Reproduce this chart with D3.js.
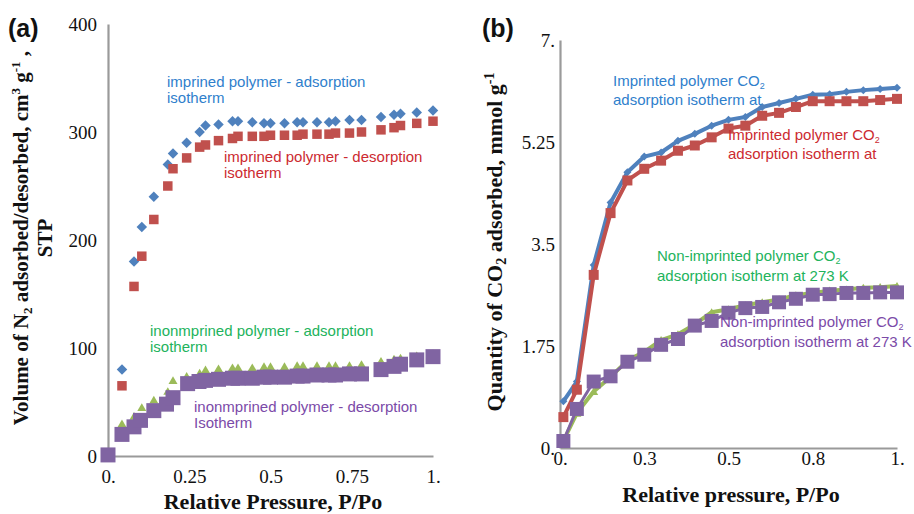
<!DOCTYPE html>
<html>
<head>
<meta charset="utf-8">
<script src="https://cdn.jsdelivr.net/npm/d3@7"></script>
<style>
  html, body { margin: 0; padding: 0; background: #fff; }
  svg { display: block; }
</style>
</head>
<body>
<svg id="chart" width="914" height="514"></svg>
<script>
// ---------- Panel (a) data: N2 isotherms ----------
const aImpX = [0.043, 0.08, 0.104, 0.141, 0.184, 0.20, 0.242, 0.282, 0.30, 0.34, 0.383, 0.40, 0.444, 0.48, 0.50, 0.543, 0.582, 0.60, 0.643, 0.68, 0.70, 0.743, 0.78, 0.84, 0.88, 0.90, 0.95, 1.0];
const aImpAds = [80, 180, 212, 240, 270, 280, 290, 300, 306, 307, 310, 310, 309, 308, 308, 308, 309, 309, 309, 309, 310, 311, 311, 314, 316, 317, 318, 320];
const aImpDes = [65, 157, 185, 219, 250, 266, 276, 286, 288, 292, 294, 296, 296, 296, 297, 297, 297, 298, 298, 298, 299, 299, 300, 302, 304, 306, 308, 310];
const aNonAds = [30, 37, 45, 52, 60, 70, 74, 77, 80, 81, 82, 82, 82, 83, 83, 83, 84, 84, 84, 84, 84, 84, 85, 88, 90, 91, 93, 95];
const aNonDesX = [0, 0.043, 0.08, 0.10, 0.141, 0.18, 0.20, 0.245, 0.28, 0.30, 0.34, 0.383, 0.40, 0.444, 0.48, 0.50, 0.543, 0.582, 0.60, 0.643, 0.68, 0.70, 0.743, 0.78, 0.84, 0.88, 0.90, 0.95, 1.0];
const aNonDes = [1, 20, 27, 33, 42, 48, 54, 67, 69, 70, 71, 72, 72, 72, 73, 73, 73, 74, 74, 75, 75, 75, 76, 76, 80, 83, 85, 89, 92];
const aXTicks = [0, 0.25, 0.5, 0.75, 1];
const aXTickLabels = ["0.", "0.25", "0.5", "0.75", "1."];
const aYTicks = [0, 100, 200, 300, 400];
const aYTickLabels = ["0", "100", "200", "300", "400"];

// ---------- Panel (b) data: CO2 isotherms ----------
const bX = [0.01, 0.05, 0.10, 0.15, 0.20, 0.25, 0.30, 0.35, 0.40, 0.45, 0.50, 0.55, 0.60, 0.65, 0.70, 0.75, 0.80, 0.85, 0.90, 0.95, 1.0];
const bImpBlue = [0.80, 1.14, 3.14, 4.21, 4.73, 5.00, 5.07, 5.27, 5.39, 5.53, 5.63, 5.68, 5.85, 5.92, 5.99, 6.06, 6.07, 6.11, 6.14, 6.16, 6.18];
const bImpRed = [0.53, 1.00, 2.97, 4.03, 4.59, 4.79, 4.93, 5.10, 5.19, 5.33, 5.48, 5.53, 5.70, 5.75, 5.85, 5.95, 5.95, 5.95, 5.95, 5.97, 5.99];
const bNonGreen = [0.12, 0.60, 0.97, 1.22, 1.50, 1.65, 1.85, 1.95, 2.12, 2.33, 2.38, 2.45, 2.50, 2.55, 2.62, 2.66, 2.70, 2.72, 2.75, 2.76, 2.78];
const bNonPurple = [0.12, 0.67, 1.14, 1.23, 1.48, 1.60, 1.77, 1.87, 2.10, 2.18, 2.32, 2.40, 2.42, 2.50, 2.56, 2.63, 2.64, 2.66, 2.66, 2.67, 2.67];
const bXTicks = [0, 0.25, 0.5, 0.75, 1];
const bXTickLabels = ["0.", "0.3", "0.5", "0.8", "1."];
const bYTicks = [0, 1.75, 3.5, 5.25, 7];
const bYTickLabels = ["0.", "1.75", "3.5", "5.25", "7."];

const C = { blue: "#4F81BD", red: "#C0504D", green: "#9BBB59", purple: "#8064A2" };
const T = { blue: "#2F80CC", red: "#CC2A30", green: "#22B35C", purple: "#7B4AA8" };
const SERIF = "'Liberation Serif', 'Times New Roman', serif";
const SANS = "'Liberation Sans', Arial, sans-serif";

const svg = d3.select("#chart");

// marker paths
function marker(type, s) {
  const h = s / 2;
  if (type === "diamond") return `M0,${-h}L${h},0L0,${h}L${-h},0Z`;
  if (type === "square") return `M${-h},${-h}H${h}V${h}H${-h}Z`;
  if (type === "triangle") return `M0,${-h * 0.9}L${h},${h * 0.8}L${-h},${h * 0.8}Z`;
}

function axes(g, x, y, xTicks, xLabels, yTicks, yLabels, xPad, yPad) {
  const xa = g.append("g").attr("transform", `translate(0,${y(0)})`)
    .call(d3.axisBottom(x).tickValues(xTicks).tickFormat((d, i) => xLabels[i]).tickSize(0).tickPadding(xPad));
  const ya = g.append("g").attr("transform", `translate(${x(0)},0)`)
    .call(d3.axisLeft(y).tickValues(yTicks).tickFormat((d, i) => yLabels[i]).tickSize(0).tickPadding(yPad));
  [xa, ya].forEach(a => {
    a.select(".domain").attr("stroke", "#9a9a9a").attr("stroke-width", 2.2);
    a.selectAll("text").attr("font-family", SERIF).attr("font-size", 19).attr("fill", "#111");
  });
}

function label(g, x, y, lines, color) {
  const t = g.append("text").attr("font-family", SANS).attr("font-size", 15).attr("fill", color);
  lines.forEach((ln, i) => {
    const base = t.append("tspan").attr("x", x).attr("y", y + i * ln.dy0);
    ln.parts.forEach(p => {
      const s = base.append("tspan").text(p.t);
      if (p.sub) s.attr("font-size", 9).attr("dy", 3);
    });
  });
}

// ================= Panel (a) =================
{
  const g = svg.append("g");
  const x = d3.scaleLinear().domain([0, 1]).range([108, 433]);
  const y = d3.scaleLinear().domain([0, 400]).range([456, 24]);
  axes(g, x, y, aXTicks, aXTickLabels, aYTicks, aYTickLabels, 14, 11);

  const draw = (xs, vs, type, size, color) => {
    g.append("g").selectAll("path").data(vs).join("path")
      .attr("transform", (d, i) => `translate(${x(xs[i])},${y(d)})`)
      .attr("d", marker(type, size)).attr("fill", color);
  };
  draw(aImpX, aImpAds, "diamond", 10.5, C.blue);
  draw(aImpX, aImpDes, "square", 9.5, C.red);
  draw(aImpX, aNonAds, "triangle", 9, C.green);
  draw(aNonDesX, aNonDes, "square", 15, C.purple);

  label(g, 167, 87, [{ dy0: 16, parts: [{ t: "imprined polymer - adsorption" }] }, { dy0: 16, parts: [{ t: "isotherm" }] }], T.blue);
  label(g, 224, 162, [{ dy0: 16, parts: [{ t: "imprined polymer - desorption" }] }, { dy0: 16, parts: [{ t: "isotherm" }] }], T.red);
  label(g, 150, 336, [{ dy0: 16, parts: [{ t: "inonmprined polymer - adsorption" }] }, { dy0: 16, parts: [{ t: "isotherm" }] }], T.green);
  label(g, 194, 412, [{ dy0: 16, parts: [{ t: "inonmprined polymer - desorption" }] }, { dy0: 16, parts: [{ t: "Isotherm" }] }], T.purple);

  // panel tag
  g.append("text").attr("x", 8).attr("y", 37).attr("font-family", SANS).attr("font-weight", "bold")
    .attr("font-size", 25).attr("fill", "#111").text("(a)");

  // x title
  g.append("text").attr("x", 273).attr("y", 509).attr("text-anchor", "middle")
    .attr("font-family", SERIF).attr("font-weight", "bold").attr("font-size", 22).attr("fill", "#111")
    .text("Relative Pressure, P/Po");

  // y title (two lines)
  const yt = g.append("text").attr("transform", "translate(28,238) rotate(-90)").attr("text-anchor", "middle")
    .attr("font-family", SERIF).attr("font-weight", "bold").attr("font-size", 21).attr("fill", "#111");
  yt.append("tspan").text("Volume of N");
  yt.append("tspan").attr("font-size", 13).attr("dy", 4).text("2");
  yt.append("tspan").attr("dy", -4).text(" adsorbed/desorbed, cm");
  yt.append("tspan").attr("font-size", 13).attr("dy", -8).text("3");
  yt.append("tspan").attr("dy", 8).text(" g");
  yt.append("tspan").attr("font-size", 13).attr("dy", -8).text("-1");
  yt.append("tspan").attr("dy", 8).text(" ,");
  g.append("text").attr("transform", "translate(52,238) rotate(-90)").attr("text-anchor", "middle")
    .attr("font-family", SERIF).attr("font-weight", "bold").attr("font-size", 21).attr("fill", "#111").text("STP");
}

// ================= Panel (b) =================
{
  const g = svg.append("g");
  const x = d3.scaleLinear().domain([0, 1]).range([560, 897]);
  const y = d3.scaleLinear().domain([0, 7]).range([448, 40]);
  axes(g, x, y, bXTicks, bXTickLabels, bYTicks, bYTickLabels, 4, 5);

  const series = [
    { v: bImpBlue, type: "diamond", size: 8, color: C.blue, w: 4 },
    { v: bImpRed, type: "square", size: 10, color: C.red, w: 4 },
    { v: bNonGreen, type: "triangle", size: 9, color: C.green, w: 4 },
    { v: bNonPurple, type: "square", size: 14, color: C.purple, w: 3 }
  ];
  const line = d3.line().x((d, i) => x(bX[i])).y(d => y(d));
  series.forEach(s => {
    const sg = g.append("g");
    sg.append("path").datum(s.v).attr("d", line).attr("fill", "none")
      .attr("stroke", s.color).attr("stroke-width", s.w).attr("stroke-linejoin", "round");
    sg.selectAll("path.m").data(s.v).join("path").attr("class", "m")
      .attr("transform", (d, i) => `translate(${x(bX[i])},${y(d)})`)
      .attr("d", marker(s.type, s.size)).attr("fill", s.color);
  });

  const co2 = (pre) => [{ t: pre + "CO" }, { t: "2", sub: true }];
  label(g, 613, 86, [{ dy0: 19, parts: co2("Imprinted polymer ") }, { dy0: 19, parts: [{ t: "adsorption isotherm at" }] }], T.blue);
  label(g, 728, 140, [{ dy0: 19, parts: co2("Imprinted polymer ") }, { dy0: 19, parts: [{ t: "adsorption isotherm at" }] }], T.red);
  label(g, 657, 261, [{ dy0: 20, parts: co2("Non-imprinted polymer ") }, { dy0: 20, parts: [{ t: "adsorption isotherm at 273 K" }] }], T.green);
  label(g, 720, 327, [{ dy0: 20, parts: co2("Non-imprinted polymer ") }, { dy0: 20, parts: [{ t: "adsorption isotherm at 273 K" }] }], T.purple);

  g.append("text").attr("x", 482).attr("y", 37).attr("font-family", SANS).attr("font-weight", "bold")
    .attr("font-size", 25).attr("fill", "#111").text("(b)");

  g.append("text").attr("x", 731).attr("y", 502).attr("text-anchor", "middle")
    .attr("font-family", SERIF).attr("font-weight", "bold").attr("font-size", 22).attr("fill", "#111")
    .text("Relative pressure, P/Po");

  const yt = g.append("text").attr("transform", "translate(502,242) rotate(-90)").attr("text-anchor", "middle")
    .attr("font-family", SERIF).attr("font-weight", "bold").attr("font-size", 22).attr("fill", "#111");
  yt.append("tspan").text("Quantity of CO");
  yt.append("tspan").attr("font-size", 14).attr("dy", 4).text("2");
  yt.append("tspan").attr("dy", -4).text(" adsorbed, mmol g");
  yt.append("tspan").attr("font-size", 14).attr("dy", -8).text("-1");
}
</script>
</body>
</html>
